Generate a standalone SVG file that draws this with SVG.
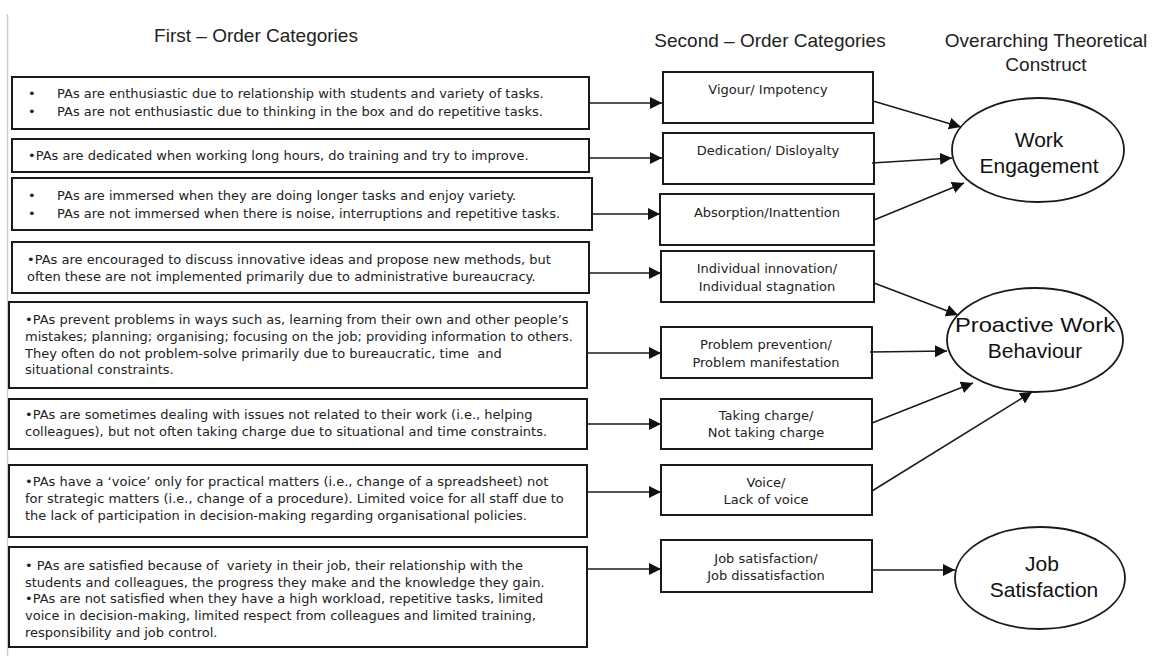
<svg xmlns="http://www.w3.org/2000/svg" width="1156" height="656" viewBox="0 0 1156 656">
<style>
  .box{fill:#fff;stroke:#1a1a1a;stroke-width:2}
  .ell{fill:#fff;stroke:#1a1a1a;stroke-width:1.8}
  .t{font-family:"DejaVu Sans",Verdana,sans-serif;font-size:13px;fill:#222}
  .m{font-family:"DejaVu Sans",Verdana,sans-serif;font-size:13px;fill:#222;text-anchor:middle}
  .h{font-family:"Liberation Sans",Arial,sans-serif;font-size:19px;fill:#222;text-anchor:middle}
  .e{font-family:"Liberation Sans",Arial,sans-serif;font-size:21px;fill:#111;text-anchor:middle}
  .c{fill:none;stroke:#1a1a1a;stroke-width:1.5;marker-end:url(#ah)}
</style>
<defs>
  <marker id="ah" markerUnits="userSpaceOnUse" markerWidth="13" markerHeight="13" refX="12" refY="6" orient="auto">
    <path d="M0,0 L12,6 L0,12 z" fill="#111"/>
  </marker>
</defs>
<rect width="1156" height="656" fill="#fff"/>
<line x1="7.5" y1="14" x2="7.5" y2="656" stroke="#cfcfcf" stroke-width="1.5"/>

<g id="headers">
  <text class="h" x="256" y="42">First – Order Categories</text>
  <text class="h" x="770" y="47">Second – Order Categories</text>
  <text class="h" x="1046" y="47">Overarching Theoretical</text>
  <text class="h" x="1046" y="71">Construct</text>
</g>

<g id="f1">
  <rect class="box" x="12" y="77" width="577" height="52"/>
  <text class="t" x="28" y="98">•</text><text class="t" x="57" y="98">PAs are enthusiastic due to relationship with students and variety of tasks.</text>
  <text class="t" x="28" y="116">•</text><text class="t" x="57" y="116">PAs are not enthusiastic due to thinking in the box and do repetitive tasks.</text>
</g>
<g id="f2">
  <rect class="box" x="12" y="139" width="577" height="33"/>
  <text class="t" x="28" y="160">•PAs are dedicated when working long hours, do training and try to improve.</text>
</g>
<g id="f3">
  <rect class="box" x="12" y="178" width="580" height="52"/>
  <text class="t" x="28" y="200">•</text><text class="t" x="57" y="200">PAs are immersed when they are doing longer tasks and enjoy variety.</text>
  <text class="t" x="28" y="218">•</text><text class="t" x="57" y="218">PAs are not immersed when there is noise, interruptions and repetitive tasks.</text>
</g>
<g id="f4">
  <rect class="box" x="12" y="242" width="577" height="51"/>
  <text class="t" x="27" y="264">•PAs are encouraged to discuss innovative ideas and propose new methods, but</text>
  <text class="t" x="27" y="281">often these are not implemented primarily due to administrative bureaucracy.</text>
</g>
<g id="f5">
  <rect class="box" x="9" y="302" width="578" height="86"/>
  <text class="t" x="25" y="324">•PAs prevent problems in ways such as, learning from their own and other people’s</text>
  <text class="t" x="25" y="341">mistakes; planning; organising; focusing on the job; providing information to others.</text>
  <text class="t" x="25" y="358" xml:space="preserve">They often do not problem-solve primarily due to bureaucratic, time  and</text>
  <text class="t" x="25" y="374">situational constraints.</text>
</g>
<g id="f6">
  <rect class="box" x="9" y="399" width="578" height="50"/>
  <text class="t" x="25" y="419">•PAs are sometimes dealing with issues not related to their work (i.e., helping</text>
  <text class="t" x="25" y="436">colleagues), but not often taking charge due to situational and time constraints.</text>
</g>
<g id="f7">
  <rect class="box" x="9" y="465" width="578" height="72"/>
  <text class="t" x="25" y="486">•PAs have a ‘voice’ only for practical matters (i.e., change of a spreadsheet) not</text>
  <text class="t" x="25" y="503">for strategic matters (i.e., change of a procedure). Limited voice for all staff due to</text>
  <text class="t" x="25" y="520">the lack of participation in decision-making regarding organisational policies.</text>
</g>
<g id="f8">
  <rect class="box" x="9" y="547" width="578" height="100"/>
  <text class="t" x="25" y="570" xml:space="preserve">• PAs are satisfied because of  variety in their job, their relationship with the</text>
  <text class="t" x="25" y="587">students and colleagues, the progress they make and the knowledge they gain.</text>
  <text class="t" x="25" y="603">•PAs are not satisfied when they have a high workload, repetitive tasks, limited</text>
  <text class="t" x="25" y="620">voice in decision-making, limited respect from colleagues and limited training,</text>
  <text class="t" x="25" y="637">responsibility and job control.</text>
</g>

<g id="s1"><rect class="box" x="663" y="72" width="210" height="51"/><text class="m" x="768" y="94">Vigour/ Impotency</text></g>
<g id="s2"><rect class="box" x="663" y="133" width="211" height="51"/><text class="m" x="768" y="155">Dedication/ Disloyalty</text></g>
<g id="s3"><rect class="box" x="660" y="194" width="214" height="51"/><text class="m" x="767" y="217">Absorption/Inattention</text></g>
<g id="s4"><rect class="box" x="661" y="251" width="213" height="51"/><text class="m" x="767" y="273">Individual innovation/</text><text class="m" x="767" y="291">Individual stagnation</text></g>
<g id="s5"><rect class="box" x="661" y="327" width="211" height="51"/><text class="m" x="766" y="349">Problem prevention/</text><text class="m" x="766" y="367">Problem manifestation</text></g>
<g id="s6"><rect class="box" x="661" y="399" width="211" height="50"/><text class="m" x="766" y="420">Taking charge/</text><text class="m" x="766" y="437">Not taking charge</text></g>
<g id="s7"><rect class="box" x="661" y="465" width="211" height="50"/><text class="m" x="766" y="487">Voice/</text><text class="m" x="766" y="504">Lack of voice</text></g>
<g id="s8"><rect class="box" x="661" y="540" width="211" height="52"/><text class="m" x="766" y="563">Job satisfaction/</text><text class="m" x="766" y="580">Job dissatisfaction</text></g>

<g id="we"><ellipse class="ell" cx="1038" cy="150" rx="86" ry="52"/><text class="e" x="1039" y="147">Work</text><text class="e" x="1039" y="173">Engagement</text></g>
<g id="pwb"><ellipse class="ell" cx="1035" cy="340" rx="88" ry="52"/><text class="e" x="1035" y="332" textLength="160" lengthAdjust="spacingAndGlyphs">Proactive Work</text><text class="e" x="1035" y="358">Behaviour</text></g>
<g id="js"><ellipse class="ell" cx="1040" cy="578" rx="85" ry="51"/><text class="e" x="1042" y="571">Job</text><text class="e" x="1044" y="597">Satisfaction</text></g>

<g id="connectors">
  <line class="c" x1="589" y1="103" x2="662" y2="103"/>
  <line class="c" x1="589" y1="158" x2="662" y2="158"/>
  <line class="c" x1="592" y1="214" x2="660" y2="214"/>
  <line class="c" x1="589" y1="273" x2="661" y2="273"/>
  <line class="c" x1="587" y1="353" x2="661" y2="353"/>
  <line class="c" x1="587" y1="424" x2="661" y2="424"/>
  <line class="c" x1="587" y1="492" x2="661" y2="492"/>
  <line class="c" x1="587" y1="569" x2="661" y2="569"/>
  <line class="c" x1="873" y1="101" x2="961" y2="127"/>
  <line class="c" x1="872" y1="163" x2="952" y2="158"/>
  <line class="c" x1="874" y1="220" x2="964" y2="183"/>
  <line class="c" x1="874" y1="283" x2="958" y2="315"/>
  <line class="c" x1="870" y1="352" x2="947" y2="351"/>
  <line class="c" x1="872" y1="423" x2="973" y2="383"/>
  <line class="c" x1="872" y1="491" x2="1032" y2="392"/>
  <line class="c" x1="873" y1="570" x2="955" y2="570"/>
</g>
</svg>
